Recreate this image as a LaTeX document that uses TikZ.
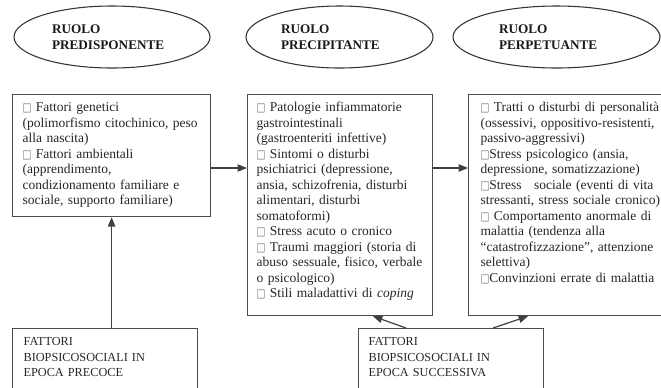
\documentclass[tikz,border=0pt]{standalone}
\usepackage{fontspec}
\usepackage{graphicx}
\setmainfont{Liberation Serif}
\newfontfamily\sqfont{DejaVu Sans}
\usetikzlibrary{positioning,arrows.meta,shapes.geometric,calc}

\newcommand{\sq}{{\sqfont\color{black!55}\fontsize{8.8}{8.8}\selectfont\scalebox{0.8}[1]{□}}}

\begin{document}
\begin{tikzpicture}[
      x=0.75pt,y=-0.75pt,
      >={Triangle[length=7pt,width=5.5pt]},
      ruolo/.style={ellipse,draw=black!80,line width=0.8pt,inner sep=0pt,
        minimum height=46.5pt,align=left,text=black!90,
        font=\fontsize{9.9}{12}\selectfont\bfseries},
      fase/.style={draw=black!70,line width=0.9pt,anchor=north west,
        align=left,inner ysep=0pt,text=black!85,text height=12.75pt,
        text depth=153pt,font=\fontsize{10.125}{11.625}\selectfont},
      fattori/.style={fase,text depth=41.25pt,
        font=\fontsize{9.2}{11.625}\selectfont},
      flow/.style={draw=black!75,line width=0.9pt,->}
    ]
    \useasboundingbox (0,0) rectangle (661,387);
    \clip (0,0) rectangle (661,387);
    % ruoli
    \node[ruolo,minimum width=147pt,text width=90pt] (r1) at (112,37)
      {RUOLO\\PREDISPONENTE};
    \node[ruolo,minimum width=140.25pt,text width=87.75pt] (r2) at (339.5,37)
      {RUOLO\\PRECIPITANTE};
    \node[ruolo,minimum width=155.25pt,text width=86.25pt] (r3) at (556.5,37)
      {RUOLO\\PERPETUANTE};
    % fattori per ruolo
    \node[fase,text width=133.5pt,inner xsep=7.5pt,text depth=78.75pt]
      (predisp) at (12,94)
      {\sq{} Fattori genetici\\
       (polimorfismo citochinico, peso\\
       alla nascita)\\
       \sq{} Fattori ambientali\\
       (apprendimento,\\
       condizionamento familiare e\\
       sociale, supporto familiare)};
    \node[fase,text width=125.25pt,inner xsep=6.75pt] (precip) at (247,94)
      {\sq{} Patologie infiammatorie\\
       gastrointestinali\\
       (gastroenteriti infettive)\\
       \sq{} Sintomi o disturbi\\
       psichiatrici (depressione,\\
       ansia, schizofrenia, disturbi\\
       alimentari, disturbi\\
       somatoformi)\\
       \sq{} Stress acuto o cronico\\
       \sq{} Traumi maggiori (storia di\\
       abuso sessuale, fisico, verbale\\
       o psicologico)\\
       \sq{} Stili maladattivi di \textit{coping}};
    \node[fase,text width=135pt,inner xsep=9pt] (perpet) at (468,94)
      {\sq{} Tratti o disturbi di personalità\\
       (ossessivi, oppositivo-resistenti,\\
       passivo-aggressivi)\\
       \sq Stress psicologico (ansia,\\
       depressione, somatizzazione)\\
       \sq Stress\hspace{6pt} sociale (eventi di vita\\
       stressanti, stress sociale cronico)\\
       \sq{} Comportamento anormale di\\
       malattia (tendenza alla\\
       “catastrofizzazione”, attenzione\\
       selettiva)\\
       \sq Convinzioni errate di malattia};
    % fattori biopsicosociali
    \node[fattori,text width=122.25pt,inner xsep=8.25pt] (precoce) at (12,328)
      {FATTORI\\BIOPSICOSOCIALI IN\\EPOCA PRECOCE};
    \node[fattori,text width=123.75pt,inner xsep=7.5pt] (successiva) at (358,328)
      {FATTORI\\BIOPSICOSOCIALI IN\\EPOCA SUCCESSIVA};
    \coordinate (mid) at (0,168);
    \draw[flow] (predisp.east |- mid) -- (precip.west |- mid);
    \draw[flow] (precip.east |- mid) -- (perpet.west |- mid);
    \draw[flow] (precoce.north -| predisp.south) -- (predisp.south);
    \draw[flow] ($(successiva.north west)+(48,0)$) -- ($(precip.south west)+(126,0)$);
    \draw[flow] ($(successiva.north west)+(135,0)$) -- ($(perpet.south west)+(60,0)$);
  \end{tikzpicture}
\end{document}
